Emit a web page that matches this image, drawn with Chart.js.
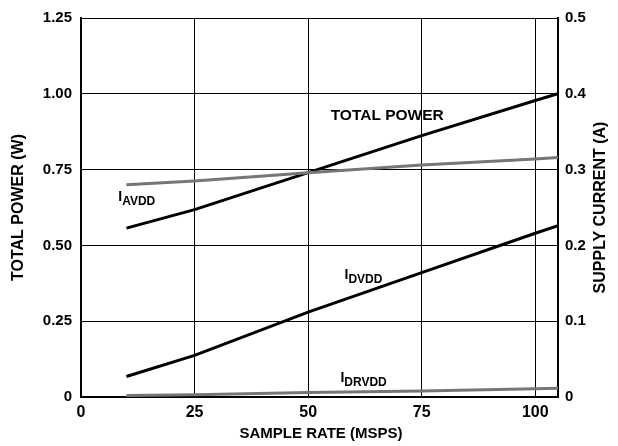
<!DOCTYPE html>
<html>
<head>
<meta charset="utf-8">
<script src="https://cdn.jsdelivr.net/npm/chart.js@4/dist/chart.umd.min.js"></script>
<style>
  html, body { margin: 0; padding: 0; background: #fff; }
  #wrap { width: 618px; height: 446px; }
</style>
</head>
<body>
<div id="wrap"><canvas id="c" width="618" height="446"></canvas></div>
<script>
// sample rate (MSPS)
const sampleRate = [10, 25, 50, 75, 100, 105];
// total power, W (left axis)
const totalPower = [0.557, 0.618, 0.740, 0.862, 0.978, 1.0];
// supply currents, A (right axis)
const iAvdd  = [0.280, 0.285, 0.296, 0.306, 0.314, 0.316];
const iDvdd  = [0.027, 0.055, 0.112, 0.164, 0.216, 0.226];
const iDrvdd = [0.002, 0.003, 0.006, 0.008, 0.011, 0.0114];

const xTicks = [0, 25, 50, 75, 100];
const wTicks = [0, 0.25, 0.5, 0.75, 1.0, 1.25];
const aTicks = [0, 0.1, 0.2, 0.3, 0.4, 0.5];

const FONT = '"Liberation Sans", Arial, sans-serif';
const GRAY = '#767676';

const pts = vals => sampleRate.map((x, i) => ({ x, y: vals[i] }));

// curve labels: [main, subscript, x, y on W axis, align]
const curveLabels = [
  ['TOTAL POWER', '', 67.4, 0.914, 'center'],
  ['I', 'AVDD', 8.2, 0.648, 'left'],
  ['I', 'DVDD', 58.0, 0.389, 'left'],
  ['I', 'DRVDD', 57.1, 0.050, 'left'],
];

const labelPlugin = {
  id: 'labels',
  afterDraw(chart) {
    const { ctx, scales, chartArea } = chart;
    ctx.save();
    ctx.fillStyle = '#000';
    ctx.textBaseline = 'alphabetic';
    ctx.textAlign = 'left';
    curveLabels.forEach(([main, sub, x, y, align]) => {
      let px = scales.x.getPixelForValue(x);
      const py = scales.yW.getPixelForValue(y);
      ctx.font = sub ? `bold 14px ${FONT}` : `bold 15.5px ${FONT}`;
      const mw = ctx.measureText(main).width;
      if (align === 'center') px -= mw / 2;
      ctx.fillText(main, px, py);
      if (sub) {
        ctx.font = `bold 12px ${FONT}`;
        ctx.fillText(sub, px + mw, py + 4);
      }
    });

    // axis titles
    ctx.font = `bold 16px ${FONT}`;
    ctx.textAlign = 'center';
    ctx.textBaseline = 'middle';
    const midY = (chartArea.top + chartArea.bottom) / 2;
    ctx.save();
    ctx.translate(19, midY);
    ctx.rotate(-Math.PI / 2);
    ctx.fillText('TOTAL POWER (W)', 0, 0);
    ctx.restore();
    ctx.save();
    ctx.translate(601, midY);
    ctx.rotate(-Math.PI / 2);
    ctx.fillText('SUPPLY CURRENT (A)', 0, 0);
    ctx.restore();
    ctx.font = `bold 15px ${FONT}`;
    ctx.fillText('SAMPLE RATE (MSPS)', 321, 434);
    ctx.restore();
  }
};

const line = (data, color, axis) => ({
  data: pts(data),
  borderColor: color,
  borderWidth: 3,
  pointRadius: 0,
  tension: 0,
  yAxisID: axis,
});

new Chart(document.getElementById('c'), {
  type: 'line',
  data: {
    datasets: [
      line(iAvdd, GRAY, 'yA'),
      line(iDrvdd, GRAY, 'yA'),
      line(totalPower, '#000', 'yW'),
      line(iDvdd, '#000', 'yA'),
    ]
  },
  options: {
    responsive: false,
    animation: false,
    layout: { padding: { top: 16, left: 0, right: 0, bottom: 0 } },
    plugins: { legend: { display: false }, tooltip: { enabled: false } },
    scales: {
      x: {
        type: 'linear',
        min: 0, max: 105,
        afterBuildTicks: s => { s.ticks = xTicks.map(v => ({ value: v })); },
        afterFit: s => { s.height = 49; },
        grid: { color: '#000', lineWidth: 1, drawTicks: false },
        border: { color: '#000', width: 2 },
        ticks: { color: '#000', padding: 6, font: { family: FONT, size: 16, weight: 'bold' } },
      },
      yW: {
        position: 'left',
        min: 0, max: 1.25,
        afterBuildTicks: s => { s.ticks = wTicks.map(v => ({ value: v })); },
        afterFit: s => { s.width = 81; },
        grid: { color: '#000', lineWidth: 1, drawTicks: false },
        border: { color: '#000', width: 2 },
        ticks: {
          color: '#000', padding: 9,
          font: { family: FONT, size: 15, weight: 'bold' },
          callback: v => v === 0 ? '0' : v.toFixed(2),
        },
      },
      yA: {
        position: 'right',
        min: 0, max: 0.5,
        afterBuildTicks: s => { s.ticks = aTicks.map(v => ({ value: v })); },
        afterFit: s => { s.width = 60; },
        grid: { display: false, drawTicks: false },
        border: { color: '#000', width: 2 },
        ticks: {
          color: '#000', padding: 7,
          font: { family: FONT, size: 15, weight: 'bold' },
          callback: v => v === 0 ? '0' : v.toFixed(1),
        },
      },
    }
  },
  plugins: [labelPlugin]
});
</script>
</body>
</html>
